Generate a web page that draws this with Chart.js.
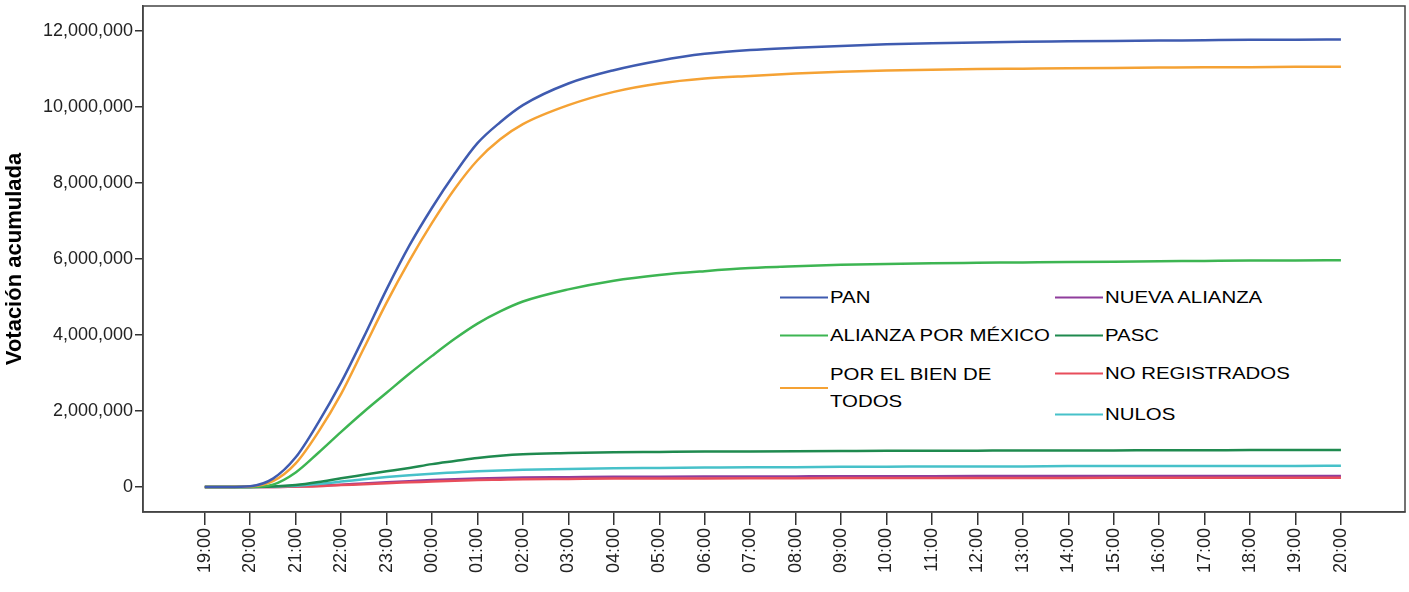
<!DOCTYPE html>
<html>
<head>
<meta charset="utf-8">
<script src="https://cdn.jsdelivr.net/npm/chart.js@4.4.1/dist/chart.umd.min.js"></script>
<style>
  body { margin: 0; background: #fff; }
  #wrap { position: relative; width: 1409px; height: 592px; }
  #leyenda {
    position: absolute; left: 779px; top: 268px; width: 520px; height: 166px;
    background: #fff; font-family: "Liberation Sans", Arial, sans-serif; color: #000;
  }
  .item { position: absolute; display: flex; align-items: center; }
  .raya { width: 48px; height: 0; border-top: 2.5px solid; margin-right: 2px; }
  .txt { font-size: 17px; line-height: 27px; transform: scaleX(1.2); transform-origin: left center; white-space: nowrap; }
</style>
</head>
<body>
<div id="wrap">
  <canvas id="grafica" width="1409" height="592"></canvas>
  <div id="leyenda"></div>
</div>
<script>
// eje x: horas de corte (indices 0..25)
const horas = ['19:00','20:00','21:00','22:00','23:00','00:00','01:00','02:00','03:00','04:00','05:00','06:00','07:00',
  '08:00','09:00','10:00','11:00','12:00','13:00','14:00','15:00','16:00','17:00','18:00','19:00','20:00']
// momento de cada lectura (horas desde las 19:00)
const tiempo = [0,0.5,1,1.5,2,2.5,3,3.5,4,4.5,5,5.5,6,6.5,7,8,9,10,11,12,13,14,15,16,17,18,19,20,21,22,23,24,25]

// votacion acumulada en millones
const pan = [0,0,0.02,0.22,0.78,1.7,2.75,3.95,5.2,6.35,7.35,8.25,9.05,9.6,10.05,10.62,10.97,11.22,11.4,11.5,11.56,11.61,11.65,11.68,11.7,11.72,11.73,11.74,11.75,11.76,11.77,11.77,11.78]
const alianzaMexico = [0,0,0,0.06,0.38,0.9,1.45,1.98,2.48,2.98,3.45,3.9,4.3,4.62,4.88,5.2,5.43,5.58,5.68,5.76,5.81,5.85,5.87,5.89,5.9,5.91,5.92,5.93,5.94,5.95,5.96,5.96,5.97]
const porElBien = [0,0,0.01,0.15,0.62,1.45,2.45,3.65,4.85,5.95,6.95,7.85,8.6,9.15,9.55,10.05,10.4,10.62,10.75,10.82,10.88,10.93,10.96,10.98,11.0,11.01,11.02,11.03,11.04,11.05,11.05,11.06,11.06]
const nuevaAlianza = [0,0,0,0,0.01,0.03,0.06,0.09,0.12,0.15,0.18,0.2,0.22,0.235,0.245,0.255,0.265,0.27,0.272,0.275,0.277,0.28,0.282,0.284,0.285,0.286,0.287,0.288,0.289,0.29,0.29,0.29,0.29]
const pasc = [0,0,0,0.01,0.05,0.13,0.23,0.32,0.41,0.5,0.6,0.68,0.76,0.82,0.86,0.89,0.91,0.92,0.93,0.935,0.94,0.945,0.95,0.95,0.955,0.96,0.96,0.96,0.965,0.965,0.97,0.97,0.97]
const noRegistrados = [0,0,0,0,0.01,0.02,0.05,0.07,0.1,0.12,0.14,0.16,0.18,0.19,0.2,0.21,0.22,0.22,0.225,0.228,0.23,0.232,0.234,0.235,0.236,0.237,0.238,0.239,0.24,0.24,0.24,0.24,0.24]
const nulos = [0,0,0,0.01,0.03,0.08,0.14,0.2,0.26,0.31,0.35,0.38,0.41,0.43,0.45,0.47,0.49,0.5,0.51,0.52,0.52,0.53,0.53,0.54,0.54,0.54,0.55,0.55,0.55,0.55,0.55,0.55,0.56]
const ticksY = [0,2,4,6,8,10,12]

const series = [
  { nombre: 'PAN', datos: pan, color: '#3f5bb0', orden: 1 },
  { nombre: 'ALIANZA POR MÉXICO', datos: alianzaMexico, color: '#3db552', orden: 3 },
  { nombre: 'POR EL BIEN DE TODOS', datos: porElBien, color: '#f5a234', orden: 2 },
  { nombre: 'NUEVA ALIANZA', datos: nuevaAlianza, color: '#8f3d9c', orden: 7 },
  { nombre: 'PASC', datos: pasc, color: '#1f8a4f', orden: 4 },
  { nombre: 'NO REGISTRADOS', datos: noRegistrados, color: '#e84d5b', orden: 6 },
  { nombre: 'NULOS', datos: nulos, color: '#47c1c9', orden: 5 }
]

// posiciones de la leyenda (columna, fila)
const posLeyenda = [[1,29],[1,67],[1,120],[276,29],[276,67],[276,105],[276,146]]

const marco = {
  id: 'marco',
  afterDatasetsDraw(chart) {
    const a = chart.chartArea, ctx = chart.ctx
    ctx.save()
    ctx.strokeStyle = '#444'
    ctx.lineWidth = 1.5
    ctx.strokeRect(a.left, a.top, a.right - a.left, a.bottom - a.top)
    ctx.restore()
  }
}

const sinRelleno = (s) => { s.paddingTop = 0; s.paddingBottom = 0; s.paddingLeft = 0; s.paddingRight = 0 }

const ctx = document.getElementById('grafica').getContext('2d')
const grafica = new Chart(ctx, {
  type: 'line',
  data: {
    datasets: series.map(s => ({
      label: s.nombre,
      data: tiempo.map((t, i) => ({ x: t, y: s.datos[i] })),
      borderColor: s.color,
      backgroundColor: s.color,
      borderWidth: 2.5,
      pointRadius: 0,
      cubicInterpolationMode: 'monotone',
      order: s.orden
    }))
  },
  options: {
    responsive: false,
    animation: false,
    devicePixelRatio: 1,
    layout: { padding: { top: 6, right: 4, left: 0, bottom: 0 } },
    plugins: { legend: { display: false }, tooltip: { enabled: false } },
    scales: {
      x: {
        type: 'linear',
        min: -1.36,
        max: 26.41,
        afterBuildTicks: (s) => { s.ticks = horas.map((h, i) => ({ value: i })) },
        afterFit: (s) => { s.height = 80; sinRelleno(s) },
        ticks: {
          callback: (v) => horas[v],
          autoSkip: false,
          maxRotation: 90,
          minRotation: 90,
          padding: 3,
          color: '#222',
          font: { family: '"Liberation Sans", Arial, sans-serif', size: 18 }
        },
        grid: { drawOnChartArea: false, drawTicks: true, tickLength: 13, color: '#333', lineWidth: 1.5 },
        border: { display: true, color: '#444', width: 1.5 }
      },
      y: {
        min: -0.66,
        max: 12.66,
        afterBuildTicks: (s) => { s.ticks = ticksY.map(v => ({ value: v })) },
        afterFit: (s) => { s.width = 143; sinRelleno(s) },
        ticks: {
          callback: (v) => (v * 1000000).toLocaleString('en-US'),
          padding: 2,
          color: '#222',
          font: { family: '"Liberation Sans", Arial, sans-serif', size: 18 }
        },
        grid: { drawOnChartArea: false, drawTicks: true, tickLength: 8, color: '#333', lineWidth: 1.5 },
        border: { display: true, color: '#444', width: 1.5 },
        title: {
          display: true,
          text: 'Votación acumulada',
          color: '#000',
          padding: { top: 2, bottom: 2 },
          font: { family: '"Liberation Sans", Arial, sans-serif', size: 22, weight: 'bold' }
        }
      }
    }
  },
  plugins: [marco]
})

// leyenda en dos columnas dentro del area del grafico
const leyenda = document.getElementById('leyenda')
series.forEach((s, i) => {
  const item = document.createElement('div')
  item.className = 'item'
  item.style.left = posLeyenda[i][0] + 'px'
  item.style.top = posLeyenda[i][1] + 'px'
  item.style.transform = 'translateY(-50%)'
  const raya = document.createElement('div')
  raya.className = 'raya'
  raya.style.borderTopColor = s.color
  const txt = document.createElement('div')
  txt.className = 'txt'
  txt.innerHTML = s.nombre === 'POR EL BIEN DE TODOS' ? 'POR EL BIEN DE<br>TODOS' : s.nombre
  item.append(raya, txt)
  leyenda.append(item)
})
</script>
</body>
</html>
